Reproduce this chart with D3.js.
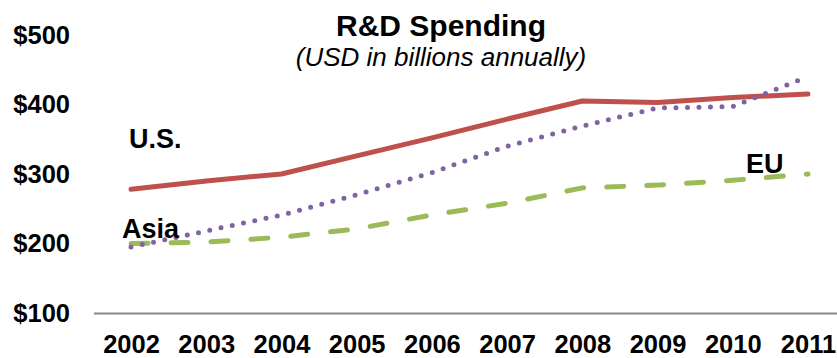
<!DOCTYPE html>
<html>
<head>
<meta charset="utf-8">
<script src="https://cdn.jsdelivr.net/npm/d3@7"></script>
<style>
  body { margin: 0; background: #fff; }
  svg { font-family: "Liberation Sans", Arial, sans-serif; }
</style>
</head>
<body>
<svg id="chart" width="837" height="358"></svg>
<script>
// Chart data
const years = ["2002", "2003", "2004", "2005", "2006", "2007", "2008", "2009", "2010", "2011"];
const usValues = [278, 290, 300, 326, 352, 379, 405, 403, 410, 415];
const asiaValues = [195, 218, 241, 270, 302, 340, 369, 395, 397, 440];
const euValues = [200, 202, 209, 221, 241, 258, 280, 284, 291, 300];
const yTicks = [100, 200, 300, 400, 500];

const svg = d3.select("#chart");

// scales
const xScale = d3.scalePoint()
    .domain(years)
    .range([93.4, 845.6])
    .padding(0.5);

const yScale = d3.scaleLinear()
    .domain([100, 500])
    .range([313, 35]);

// title
svg.append("text")
    .attr("x", 441).attr("y", 36)
    .attr("text-anchor", "middle")
    .attr("font-size", 30).attr("font-weight", "bold")
    .text("R&D Spending");

svg.append("text")
    .attr("x", 441).attr("y", 66)
    .attr("text-anchor", "middle")
    .attr("font-size", 26).attr("font-style", "italic")
    .text("(USD in billions annually)");

// y axis (labels only)
const yAxis = d3.axisLeft(yScale)
    .tickValues(yTicks)
    .tickSize(0)
    .tickPadding(0)
    .tickFormat(d => "$" + d);

svg.append("g")
    .attr("class", "y axis")
    .attr("transform", "translate(70,0)")
    .call(yAxis)
    .call(g => g.select(".domain").remove())
    .selectAll("text")
    .attr("font-size", 25.5).attr("font-weight", "bold")
    .attr("font-family", "Liberation Sans, Arial, sans-serif")
    .attr("fill", "#000");

// x axis
const xAxis = d3.axisBottom(xScale)
    .tickSize(0)
    .tickPadding(22);

svg.append("g")
    .attr("class", "x axis")
    .attr("transform", "translate(0,313)")
    .call(xAxis)
    .call(g => g.select(".domain").attr("stroke", "#898989").attr("stroke-width", 2))
    .selectAll("text")
    .attr("font-size", 25.5).attr("font-weight", "bold")
    .attr("font-family", "Liberation Sans, Arial, sans-serif")
    .attr("fill", "#000");

// lines
const lineGen = d3.line()
    .x((d, i) => xScale(years[i]))
    .y(d => yScale(d));

svg.append("path")
    .datum(usValues)
    .attr("fill", "none")
    .attr("stroke", "#c0504d")
    .attr("stroke-width", 5)
    .attr("stroke-linecap", "round")
    .attr("stroke-linejoin", "round")
    .attr("d", lineGen);

svg.append("path")
    .datum(euValues)
    .attr("fill", "none")
    .attr("stroke", "#9bbb59")
    .attr("stroke-width", 5)
    .attr("stroke-linecap", "round")
    .attr("stroke-dasharray", "17 23")
    .attr("d", lineGen);

svg.append("path")
    .datum(asiaValues)
    .attr("fill", "none")
    .attr("stroke", "#8064a2")
    .attr("stroke-width", 5)
    .attr("stroke-linecap", "round")
    .attr("stroke-dasharray", "0 11.5")
    .attr("d", lineGen);

// series labels
const labels = [
    { text: "U.S.", x: 129, y: 148 },
    { text: "Asia", x: 122, y: 238 },
    { text: "EU", x: 746, y: 173 }
];

svg.selectAll(".series-label")
    .data(labels)
    .join("text")
    .attr("class", "series-label")
    .attr("x", d => d.x)
    .attr("y", d => d.y)
    .attr("font-size", 27).attr("font-weight", "bold")
    .text(d => d.text);
</script>
</body>
</html>
